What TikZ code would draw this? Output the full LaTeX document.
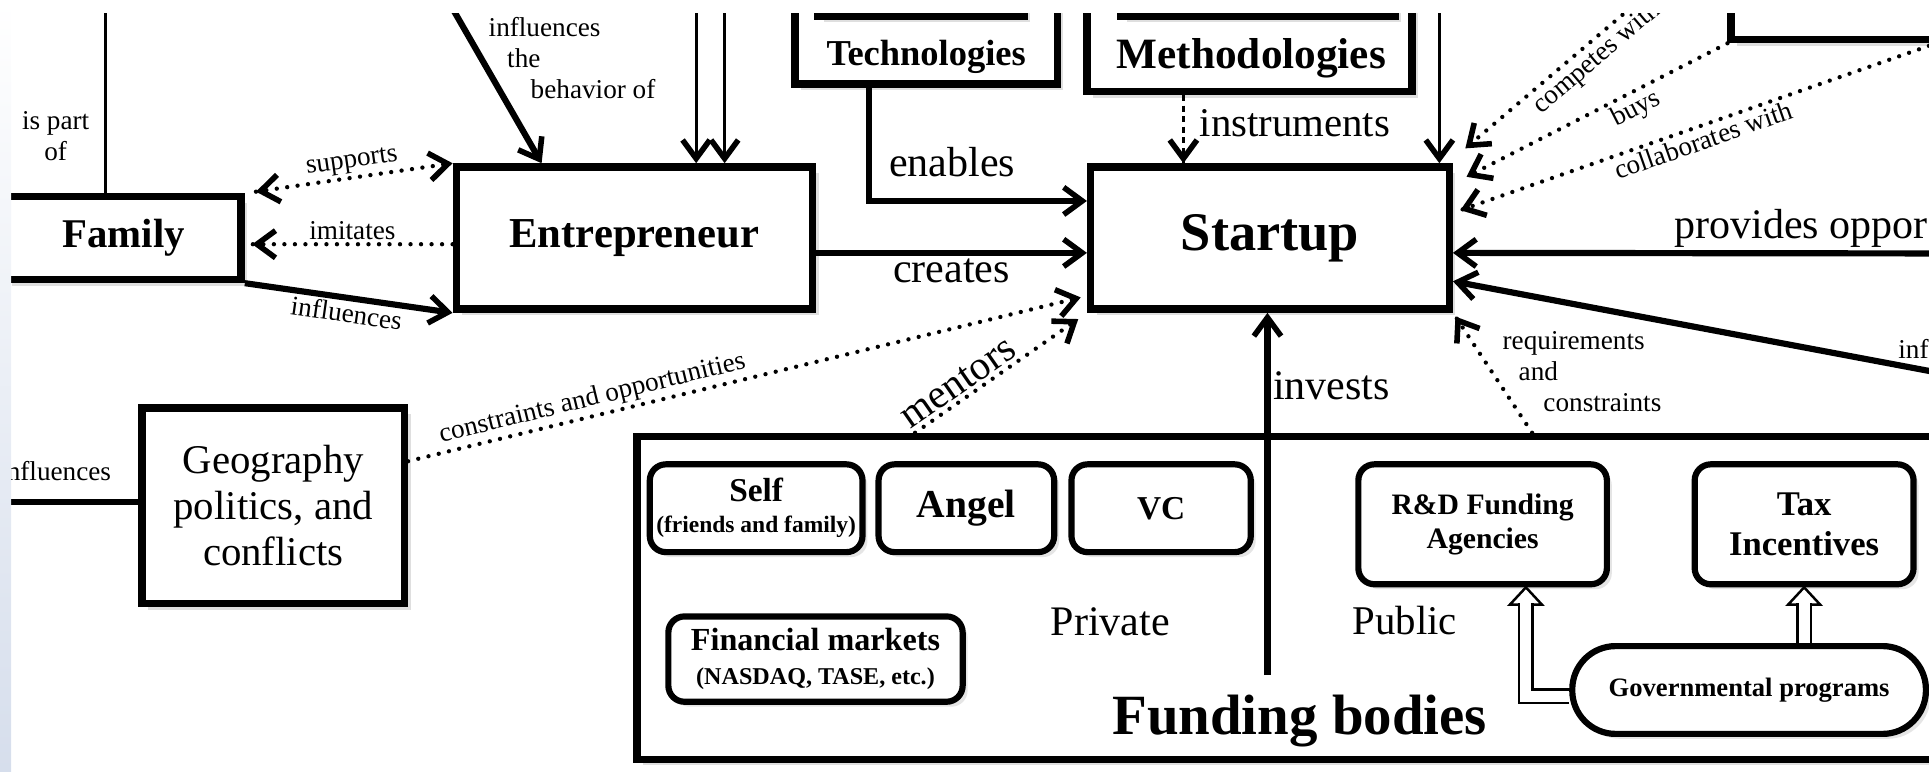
\documentclass[tikz,border=0pt]{standalone}
\usepackage{fontspec}
\setmainfont{Liberation Serif}
\usepackage{tikz}
\usetikzlibrary{positioning,arrows.meta,shadows,decorations.markings}

\newcommand{\fsz}[2]{\fontsize{#1}{#2}\selectfont}
\definecolor{edgeblue}{RGB}{214,222,236}

\tikzset{
	box/.style={draw, line width=6pt, fill=white, inner sep=0pt, align=center,
		drop shadow={shadow xshift=5pt, shadow yshift=-5pt, opacity=.25}},
	rbox/.style={draw, line width=5pt, fill=white, rounded corners=13pt,
		inner sep=0pt, align=center,
		drop shadow={shadow xshift=4pt, shadow yshift=-4pt, opacity=.2}},
	lbl/.style={font=\fsz{22}{25}, inner sep=2pt},
	biglbl/.style={font=\fsz{34}{38}, inner sep=2pt},
	arr/.style={line width=5pt, ->},
	thinarr/.style={line width=2.5pt, ->},
	thinln/.style={line width=2.5pt},
	headend/.style={postaction={solid, decorate, decoration={markings,
		mark=at position 1 with {\arrow{>}}}}},
	headstart/.style={postaction={solid, decorate, decoration={markings,
		mark=at position 0 with {\arrowreversed{>}}}}},
	dotln/.style={line width=3.5pt, line cap=round, dash pattern=on 0pt off 8.5pt},
	dotarr/.style={dotln, headend},
	hollow/.style={double=white, double distance=9pt, line width=2pt},
	hollowtip/.style={line width=2pt, fill=white, line join=miter},
}

\begin{document}
\begin{tikzpicture}[x=1pt, y=-1pt, >={Straight Barb[length=15pt,width=22pt,line width=4.5pt]}]
	\useasboundingbox (0,0) rectangle (1560,624);
	\begin{scope}
	\clip (0,11) rectangle (1560,624);

	  \node[box, minimum width=190pt, minimum height=67pt, font=\bfseries\fsz{33}{36}] (family) at (100,192.5) {Family};
	  \node[box, right=168pt of family, minimum width=288pt, minimum height=115pt, font=\bfseries\fsz{34.5}{38}] (ent) {Entrepreneur};
	  \node[box, right=219pt of ent, minimum width=290pt, minimum height=115pt, font=\bfseries\fsz{44}{48}] (startup) {Startup}; %

	  \node[box, minimum width=212pt, minimum height=128pt] (tech) at (749,4) {};
	  \node[box, minimum width=167pt, minimum height=73pt] (techtop) at (744.5,-23.5) {};
	  \node[font=\bfseries\fsz{29.5}{32}] (techname) at (749,46) {Technologies};
	  \node[box, minimum width=263pt, minimum height=134pt] (meth) at (1010.5,7) {};
	  \node[box, minimum width=222pt, minimum height=73pt] (methtop) at (1017,-23.5) {};
	  \node[font=\bfseries\fsz{35}{38}] (methname) at (1012,47) {Methodologies};
	  \node[box, minimum width=250pt, minimum height=82pt] (corp) at (1525,-9) {};

	  \node[box, minimum width=212pt, minimum height=158pt, font=\fsz{33}{37}] (geo) at (221,409) {Geography\\politics, and\\conflicts};

	  \node[box, minimum width=1095pt, minimum height=261pt] (funding) at (1062.5,483.5) {};
	  \node[rbox, minimum width=172pt, minimum height=71pt, font=\bfseries\fsz{19}{25}] (self) at (611.5,411) {{\fsz{27}{28}Self}\\(friends and family)};
	  \node[rbox, minimum width=142pt, minimum height=71pt, font=\bfseries\fsz{32}{34}] (angel) at (781.5,411) {Angel};
	  \node[rbox, minimum width=145pt, minimum height=71pt, font=\bfseries\fsz{27}{30}] (vc) at (939,411) {VC};
	  \node[rbox, minimum width=238pt, minimum height=69pt, font=\bfseries\fsz{19.5}{28}] (fin) at (659.5,533) {{\fsz{26}{28}Financial markets}\\(NASDAQ, TASE, etc.)};
	  \node[rbox, minimum width=201pt, minimum height=97pt, font=\bfseries\fsz{24}{28}] (rd) at (1199,424) {R\&D Funding\\Agencies};
	  \node[rbox, minimum width=177pt, minimum height=97pt, font=\bfseries\fsz{28}{33}] (tax) at (1459,424) {Tax\\Incentives};
	  \node[rbox, minimum width=286pt, minimum height=71pt, rounded corners=35pt, font=\bfseries\fsz{21.5}{24}] (gov) at (1414.5,558) {Governmental programs};
	  \node[biglbl] (private) at (898,503) {Private};
	  \node[font=\fsz{33}{36}] (public) at (1136,502) {Public};
	  \node[font=\bfseries\fsz{46}{50}, anchor=base] (fundname) at (1051,594) {Funding bodies};

	  \coordinate (ispart) at (85,0);
	  \coordinate (behav) at (362,0);
	  \coordinate (up1) at (563,0);
	  \coordinate (up2) at (586,0);
	  \coordinate (up3) at (1164,0);
	  \coordinate (cmp) at (1338,-10);
	  \coordinate (clb) at (1600,23);
	  \coordinate (opp) at (1600,205);
	  \coordinate (infr) at (1600,307.5);
	  \coordinate (geoin) at (-10,406);
	  \coordinate (inv) at (1025,546);
	  \path ([xshift=78pt]startup.north west) coordinate (instr);
	  \path ([xshift=35pt]rd.south) coordinate (rdin);
	  \path (gov.north -| tax.south) coordinate (taxin);

	  % family and entrepreneur
	  \draw[thinln] (ispart) -- (ispart |- family.north);
	  \node[lbl, align=center] (ispartlbl) at (45,110) {is part\\of};
	  \draw[dotarr, headstart] ([xshift=9pt,yshift=1pt]family.north east) -- (ent.north west)
	  	node[midway, sloped, above, lbl] {supports};
	  \draw[dotarr] ([yshift=-5pt]ent.west) -- ([xshift=6pt,yshift=-5pt]family.east)
	  	node[midway, above, lbl] {imitates};
	  \draw[arr] (family.south east) -- (ent.south west)
	  	node[midway, sloped, below, lbl] {influences};
	  \draw[arr] (behav) -- ([xshift=72pt]ent.north west);
	  \node[lbl, align=left, anchor=north west] (behavlbl) at (393,12) {influences\\\hspace*{15pt}the\\\hspace*{34pt}behavior of};
	  \draw[thinarr] (up1) -- (up1 |- ent.north);
	  \draw[thinarr] (up2) -- (up2 |- ent.north);

	  % startup
	  \draw[arr] ([xshift=63pt]tech.south west) |- ([yshift=30pt]startup.west);
	  \node[biglbl] (enablbl) at (770,131) {enables};
	  \draw[line width=3pt, dash pattern=on 5pt off 3.5pt, headend] (instr |- meth.south) -- (instr);
	  \node[font=\fsz{33}{36}, anchor=west, inner sep=0pt] (instrlbl) at (970,100) {instruments};
	  \draw[thinarr] (up3) -- (up3 |- startup.north);
	  \draw[arr] ([yshift=-12pt]ent.east) -- ([yshift=-12pt]startup.west)
	  	node[midway, below, biglbl] {creates};
	  \draw[dotarr] ([yshift=36pt]geo.east) -- ([xshift=-5pt,yshift=-48pt]startup.west)
	  	node[pos=0.28, sloped, above, lbl] {constraints and opportunities};
	  \draw[dotarr] ([xshift=228pt]funding.north west) -- ([xshift=-7pt,yshift=-5pt]startup.south west)
	  	node[pos=0.32, sloped, above, font=\fsz{33}{36}, inner sep=2pt] {mentors};
	  \draw[arr] (inv) -- (inv |- startup.south)
	  	node[pos=0.8, right, biglbl] {invests};
	  \draw[dotarr] ([xshift=727pt]funding.north west) -- ([xshift=2pt,yshift=-3pt]startup.south east);
	  \node[lbl, align=left, anchor=north west] (reqlbl) at (1213,266) {requirements\\\hspace*{13pt}and\\\hspace*{33pt}constraints};
	  \draw[dotarr] (cmp) -- ([xshift=10pt,yshift=12pt]startup.north east)
	  	node[pos=0.36, sloped, below, lbl] {competes with};
	  \draw[dotarr] (corp.south west) -- ([xshift=11pt,yshift=-11pt]startup.north east)
	  	node[pos=0.38, sloped, below, lbl] {buys};
	  \draw[dotarr] (clb) -- ([xshift=6pt,yshift=-38pt]startup.north east)
	  	node[pos=0.54, sloped, below, lbl] {collaborates with};
	  \draw[arr] (opp) -- ([yshift=-12pt]startup.east);
	  \node[biglbl, anchor=west] (opplbl) at (1352,185) {provides oppor};
	  \draw[arr] (infr) -- ([yshift=-35pt]startup.east);
	  \node[lbl, anchor=west] (inflbl) at (1533,282) {inf};

	  % geography
	  \draw[line width=5pt] (geoin) -- ([yshift=3pt]geo.west);
	  \node[lbl, anchor=east, inner sep=0pt] (geolbl) at (90,381) {influences};

	  % governmental programs
	  \draw[hollowtip] (rdin) -- ++(-13,14) -- ++(26,0) -- cycle;
	  \draw[hollow, shorten >=13pt] ([yshift=-5pt]gov.west) -| (rdin);
	  \draw[hollowtip] (tax.south) -- ++(-13,14) -- ++(26,0) -- cycle;
	  \draw[hollow, shorten >=13pt] (taxin) -- (tax.south);
	\end{scope}
	\shade[top color=white, bottom color=edgeblue] (0,0) rectangle (9,624);
\end{tikzpicture}
\end{document}
